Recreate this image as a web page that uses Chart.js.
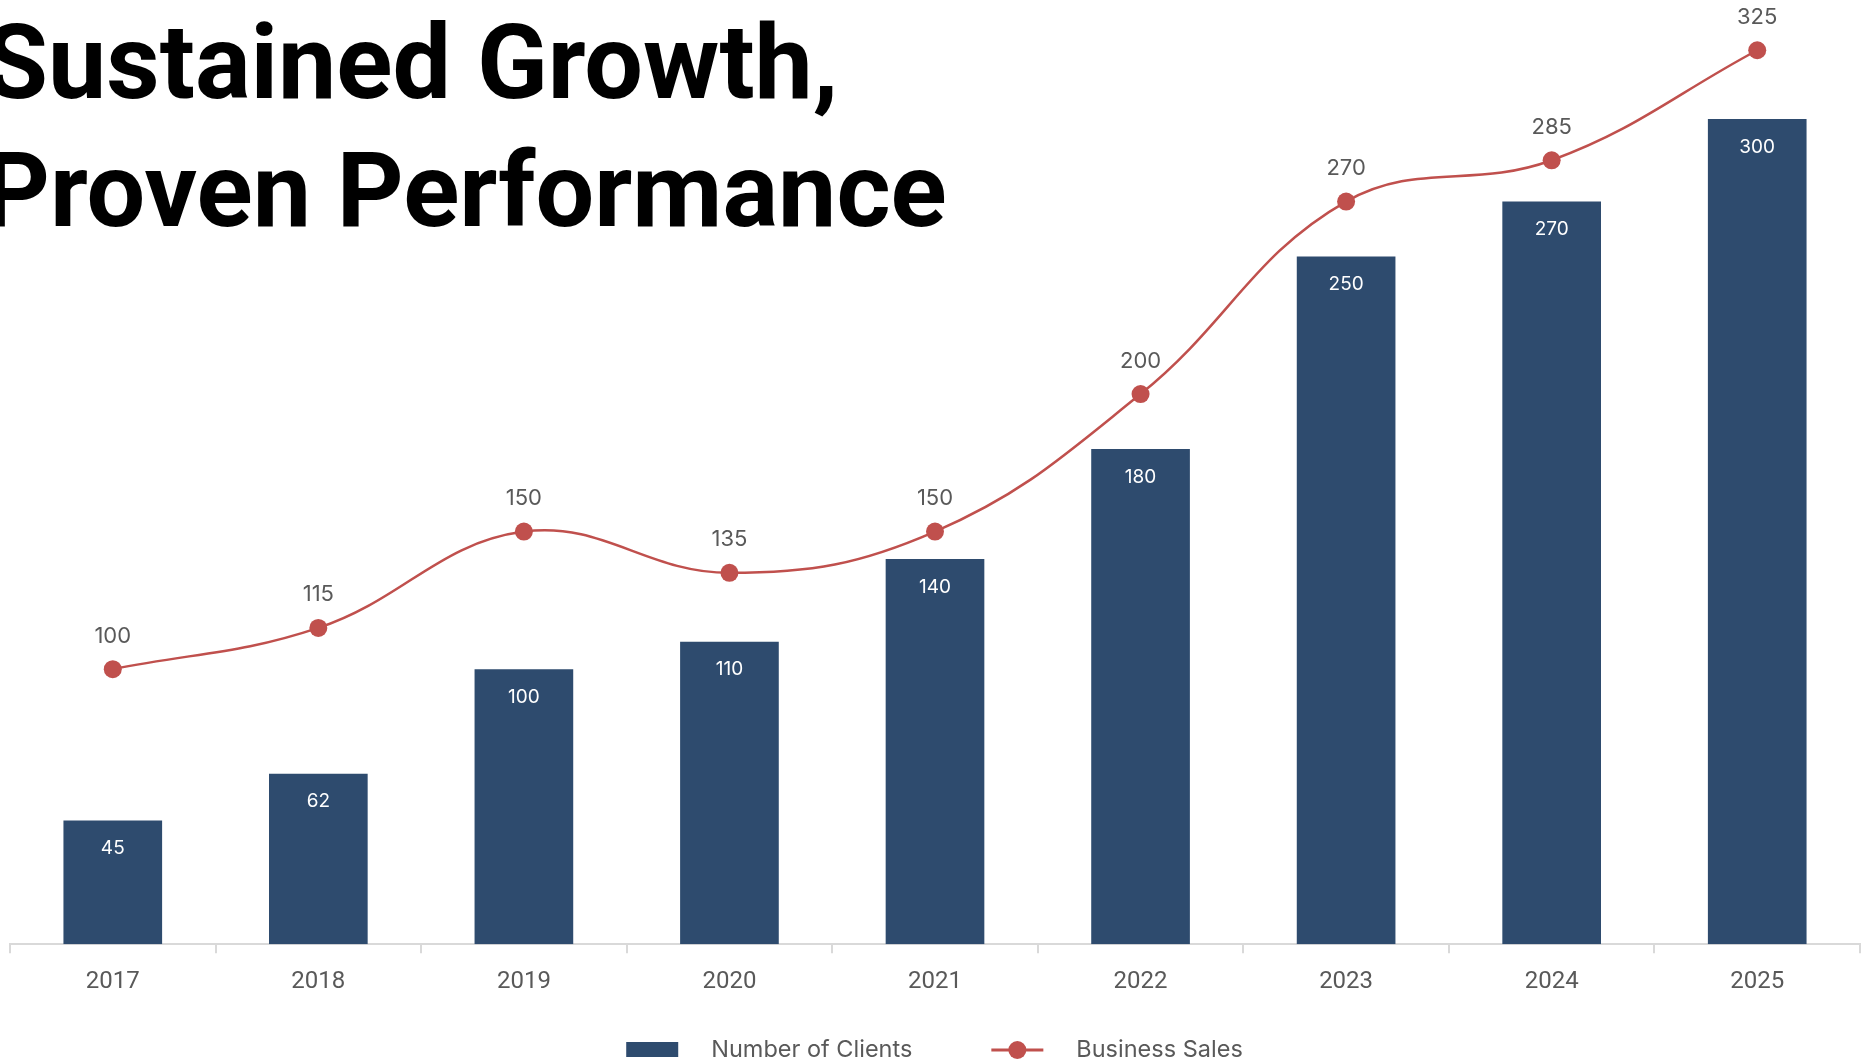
<!DOCTYPE html>
<html>
<head>
<meta charset="utf-8">
<script src="https://cdn.jsdelivr.net/npm/chart.js@4.4.1/dist/chart.umd.min.js"></script>
<style>
  html, body { margin: 0; padding: 0; background: #ffffff; overflow: hidden; }
  #wrap { width: 1869px; height: 1063px; }
</style>
</head>
<body>
<div id="wrap"><canvas id="chart" width="1869" height="1063"></canvas></div>
<script>
'use strict'

// chart data
const YEARS = ['2017', '2018', '2019', '2020', '2021', '2022', '2023', '2024', '2025'];
const CLIENTS = [45, 62, 100, 110, 140, 180, 250, 270, 300];
const SALES = [100, 115, 150, 135, 150, 200, 270, 285, 325];
const SERIES_NAMES = ['Number of Clients', 'Business Sales'];
const TITLE_LINES = ['Sustained Growth,', 'Proven Performance'];

const NAVY = '#2e4b6e';
const RED = '#c0504d';
const GREY = '#595959';
const FONT = 'Roboto, "Open Sans", sans-serif';
const LABEL_FONT = 'Inter, Roboto, sans-serif';

/** big headline drawn over the top left of the plot */
const titlePlugin = {
  id: 'headline',
  afterDraw(chart) {
    const ctx = chart.ctx;
    ctx.save();
    ctx.fillStyle = '#000000';
    ctx.font = 'bold 104px ' + FONT;
    ctx.textAlign = 'left';
    ctx.textBaseline = 'alphabetic';
    ctx.fillText(TITLE_LINES[0], -16, 98);
    ctx.fillText(TITLE_LINES[1], -17, 226);
    ctx.restore();
  }
};

/** value labels: inside the bars and above the line points */
const valueLabels = {
  id: 'valueLabels',
  afterDatasetsDraw(chart) {
    const ctx = chart.ctx;
    ctx.save();
    ctx.textAlign = 'center';
    ctx.textBaseline = 'middle';
    ctx.fillStyle = '#ffffff';
    ctx.font = '19px ' + LABEL_FONT;
    chart.getDatasetMeta(0).data.forEach((bar, i) => {
      ctx.fillText(String(CLIENTS[i]), bar.x, bar.y + 28);
    });
    ctx.fillStyle = GREY;
    ctx.font = '22px ' + LABEL_FONT;
    chart.getDatasetMeta(1).data.forEach((pt, i) => {
      ctx.fillText(String(SALES[i]), pt.x, pt.y - 33);
    });
    ctx.restore();
  }
};

/** legend at the bottom: bar swatch and line-with-dot marker */
const bottomLegend = {
  id: 'bottomLegend',
  afterDraw(chart) {
    const ctx = chart.ctx;
    const markW = 52, gap = 33, spacing = 79, cy = 1050;
    ctx.save();
    ctx.font = '23.5px ' + LABEL_FONT;
    const widths = SERIES_NAMES.map(t => markW + gap + ctx.measureText(t).width);
    const total = widths[0] + spacing + widths[1];
    let x = (chart.width - total) / 2;

    ctx.fillStyle = NAVY;
    ctx.fillRect(x, cy - 8, markW, 15);
    ctx.fillStyle = GREY;
    ctx.textAlign = 'left';
    ctx.textBaseline = 'middle';
    ctx.fillText(SERIES_NAMES[0], x + markW + gap, cy);

    x += widths[0] + spacing;
    ctx.strokeStyle = RED;
    ctx.lineWidth = 3;
    ctx.beginPath();
    ctx.moveTo(x, cy);
    ctx.lineTo(x + markW, cy);
    ctx.stroke();
    ctx.fillStyle = RED;
    ctx.beginPath();
    ctx.arc(x + markW / 2, cy, 9, 0, Math.PI * 2);
    ctx.fill();
    ctx.fillStyle = GREY;
    ctx.fillText(SERIES_NAMES[1], x + markW + gap, cy);
    ctx.restore();
  }
};

new Chart(document.getElementById('chart').getContext('2d'), {
  type: 'bar',
  data: {
    labels: YEARS,
    datasets: [{
      type: 'bar',
      label: SERIES_NAMES[0],
      data: CLIENTS,
      backgroundColor: NAVY,
      borderWidth: 0,
      categoryPercentage: 1,
      barPercentage: 0.48,
      order: 2
    }, {
      type: 'line',
      label: SERIES_NAMES[1],
      data: SALES,
      borderColor: RED,
      borderWidth: 2.5,
      backgroundColor: RED,
      pointBackgroundColor: RED,
      pointBorderColor: RED,
      pointRadius: 9,
      pointBorderWidth: 0,
      tension: 0.4,
      clip: false,
      order: 1
    }]
  },
  options: {
    responsive: false,
    animation: false,
    devicePixelRatio: 1,
    layout: { padding: { top: 8, left: 10, right: 9, bottom: 53 } },
    plugins: {
      legend: { display: false },
      tooltip: { enabled: false },
      title: { display: false }
    },
    scales: {
      x: {
        grid: {
          display: true,
          drawOnChartArea: false,
          drawTicks: true,
          tickLength: 9,
          color: '#d9d9d9',
          lineWidth: 2,
          offset: true
        },
        border: { display: true, color: '#d9d9d9', width: 2 },
        ticks: {
          color: GREY,
          padding: 14,
          font: { family: FONT, size: 24 }
        }
      },
      y: {
        display: false,
        min: 0,
        max: 340
      }
    }
  },
  plugins: [valueLabels, titlePlugin, bottomLegend]
});
</script>
</body>
</html>
